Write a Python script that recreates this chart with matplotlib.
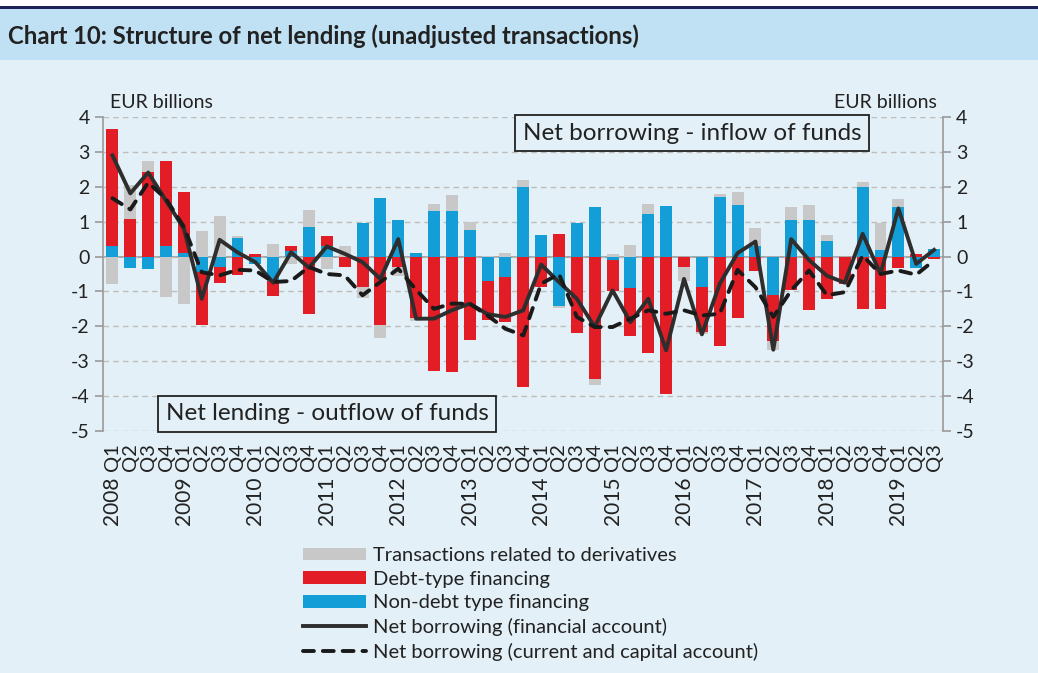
import matplotlib.pyplot as plt
from matplotlib.patches import Rectangle, Patch
from matplotlib.lines import Line2D
import matplotlib.transforms as mtransforms
import numpy as np

plt.rcParams['font.family'] = ['Lato', 'DejaVu Sans']
plt.rcParams['axes.unicode_minus'] = False

# ---------------------------------------------------------------
# data (EUR billions), 2008 Q1 .. 2019 Q3
# ---------------------------------------------------------------
years = ['2008', '2009', '2010', '2011', '2012', '2013',
         '2014', '2015', '2016', '2017', '2018', '2019']
quarters = ['Q1', 'Q2', 'Q3', 'Q4']

non_debt = [ 0.31, -0.34, -0.37,  0.30,  0.10, -0.45, -0.30,  0.54,
            -0.20, -0.69,  0.17,  0.84,  0.29,  0.00,  0.95,  1.68,
             1.05,  0.11,  1.32,  1.31,  0.75, -0.70, -0.59,  2.00,
             0.63, -1.43,  0.96,  1.42, -0.10, -0.90,  1.23,  1.44,
             0.00, -0.86,  1.71,  1.48,  0.31, -1.10,  1.04,  1.06,
             0.46,  0.00,  2.00,  0.19,  1.43, -0.32,  0.22]
debt     = [ 3.36,  1.07,  2.43,  2.44,  1.76, -1.50, -0.45, -0.53,
             0.06, -0.44,  0.13, -1.64,  0.31, -0.30, -0.86, -1.97,
            -0.30, -1.75, -3.29, -3.32, -2.40, -1.11, -1.28, -3.75,
            -0.88,  0.65, -2.19, -3.50, -0.89, -1.37, -2.76, -3.94,
            -0.29, -1.30, -2.57, -1.75, -0.42, -1.32, -0.97, -1.53,
            -1.22, -0.78, -1.51, -1.49, -0.32,  0.08, -0.08]
derivs   = [-0.80,  0.99,  0.30, -1.16, -1.36,  0.74,  1.16,  0.05,
             0.00,  0.37, -0.20,  0.49, -0.36,  0.29, -0.33, -0.36,
            -0.25, -0.11,  0.18,  0.46,  0.25,  0.03,  0.11,  0.20,
             0.00, -0.04,  0.00, -0.19,  0.08,  0.32,  0.28,  0.00,
            -0.40, -0.06,  0.08,  0.38,  0.50, -0.25,  0.39,  0.42,
             0.17,  0.00,  0.14,  0.76,  0.22,  0.00,  0.00]
nb_financial = [ 2.90,  1.81,  2.41,  1.60,  0.80, -1.21,  0.48,  0.12,
                -0.16, -0.75,  0.12, -0.32,  0.29,  0.08, -0.16, -0.64,
                 0.50, -1.78, -1.78, -1.54, -1.35, -1.65, -1.73, -1.54,
                -0.23, -0.73, -1.21, -2.02, -0.97, -1.88, -1.21, -2.69,
                -0.64, -2.23, -0.78,  0.10,  0.43, -2.67,  0.50, -0.10,
                -0.55, -0.75,  0.65, -0.50,  1.38, -0.21,  0.19]
nb_current = [ 1.67,  1.35,  2.12,  1.65,  0.85, -0.45, -0.54, -0.38,
              -0.40, -0.73, -0.70, -0.30, -0.50, -0.54, -1.11, -0.73,
              -0.35, -0.95, -1.50, -1.35, -1.35, -1.69, -2.07, -2.26,
              -0.78, -0.50, -1.73, -2.02, -2.02, -1.78, -1.54, -1.64,
              -1.54, -1.69, -1.64, -0.38, -0.88, -1.73, -0.97, -0.40,
              -1.11, -1.02,  0.03, -0.50, -0.40, -0.52, -0.11]

labels = ['Transactions related to derivatives', 'Debt-type financing',
          'Non-debt type financing', 'Net borrowing (financial account)',
          'Net borrowing (current and capital account)']

c_grey = '#c8c8c8'
c_red = '#e31d25'
c_blue = '#139ed8'
c_line = '#2e2e2e'
c_text = '#222222'
bg = '#e3f0f7'
dash = (0, (2.8, 2.3))

fig = plt.figure(figsize=(10.38, 6.73), dpi=100, facecolor=bg)
W, H = 1038.0, 673.0

# header band
fig.patches.append(Rectangle((0, 1 - 60 / H), 1, 51 / H, transform=fig.transFigure,
                             facecolor='#bfe1f3', edgecolor='none', zorder=0))
fig.patches.append(Rectangle((0, 1 - 9 / H), 1, 3 / H, transform=fig.transFigure,
                             facecolor='#1c2357', edgecolor='none', zorder=0))
fig.patches.append(Rectangle((0, 1 - 6 / H), 1, 6 / H, transform=fig.transFigure,
                             facecolor='white', edgecolor='none', zorder=0))
fig.text(8 / W, 1 - 36 / H, 'Chart 10: Structure of net lending (unadjusted transactions)',
         fontsize=17.2, fontweight='bold', color=c_text, va='center', ha='left')

ax = fig.add_axes([103 / W, 1 - 431 / H, 840 / W, 314 / H])
ax.set_facecolor(bg)

x = np.arange(len(debt))
width = 0.67

# stack outward from zero: blue, red, grey
pos_base = np.zeros(len(x))
neg_base = np.zeros(len(x))
for vals, col in [(non_debt, c_blue), (debt, c_red), (derivs, c_grey)]:
    v = np.array(vals)
    p = np.where(v > 0, v, 0)
    n = np.where(v < 0, v, 0)
    ax.bar(x, p, width, bottom=pos_base, color=col, zorder=2)
    ax.bar(x, n, width, bottom=neg_base, color=col, zorder=2)
    pos_base += p
    neg_base += n

ax.plot(x, nb_financial, color=c_line, linewidth=2.8, zorder=4)
ax.plot(x, nb_current, color='#1a1a1a', linewidth=2.8, zorder=4,
        linestyle=dash, dash_capstyle='round')

ax.axhline(0, color='#999999', linewidth=1.2, zorder=1)
ax.set_xlim(-0.53, len(x) - 0.5)
ax.set_ylim(-5, 4)
ax.set_yticks(range(-5, 5))
ax.yaxis.grid(True, color='#bdbdbd', linestyle=(0, (4, 3)), linewidth=1, zorder=0)
ax.tick_params(axis='y', labelsize=14, colors='#999999', labelcolor=c_text,
               length=6, width=1.2, direction='out', right=True, labelright=True)
ax.set_xticks([])
for s in ['top', 'bottom']:
    ax.spines[s].set_visible(False)
for s in ['left', 'right']:
    ax.spines[s].set_color('#999999')
    ax.spines[s].set_linewidth(1.2)

ax.text(0.008, 1.02, 'EUR billions', transform=ax.transAxes, fontsize=14,
        color=c_text, ha='left', va='bottom')
ax.text(0.993, 1.02, 'EUR billions', transform=ax.transAxes, fontsize=14,
        color=c_text, ha='right', va='bottom')

# category labels
trans = mtransforms.blended_transform_factory(ax.transData, ax.transAxes)
for i in x:
    ax.text(i, -0.04, quarters[i % 4], transform=trans, rotation=90,
            ha='center', va='top', fontsize=14.5, color=c_text)
for k, yr in enumerate(years):
    ax.text(k * 4, -0.145, yr, transform=trans, rotation=90,
            ha='center', va='top', fontsize=15, color=c_text)

# annotation boxes
box = dict(boxstyle='square,pad=0.3', facecolor=bg, edgecolor=c_text, linewidth=1.3)
fig.text(692 / W, 1 - 133 / H, 'Net borrowing - inflow of funds', fontsize=17.5,
         color=c_text, ha='center', va='center', bbox=box, zorder=5)
fig.text(327 / W, 1 - 414 / H, 'Net lending - outflow of funds', fontsize=17.5,
         color=c_text, ha='center', va='center', bbox=box, zorder=5)

handles = [Patch(facecolor=c_grey), Patch(facecolor=c_red), Patch(facecolor=c_blue),
           Line2D([], [], color=c_line, linewidth=2.8),
           Line2D([], [], color='#1a1a1a', linewidth=2.8, linestyle=dash,
                  dash_capstyle='round')]
fig.legend(handles, labels, loc='upper left', bbox_to_anchor=(293 / W, 1 - 537 / H),
           frameon=False, fontsize=14.5, handlelength=3.1, handleheight=0.6,
           handletextpad=0.35, labelspacing=0.33, borderpad=0, labelcolor=c_text)

fig.savefig('out.png', dpi=100, facecolor=bg)
